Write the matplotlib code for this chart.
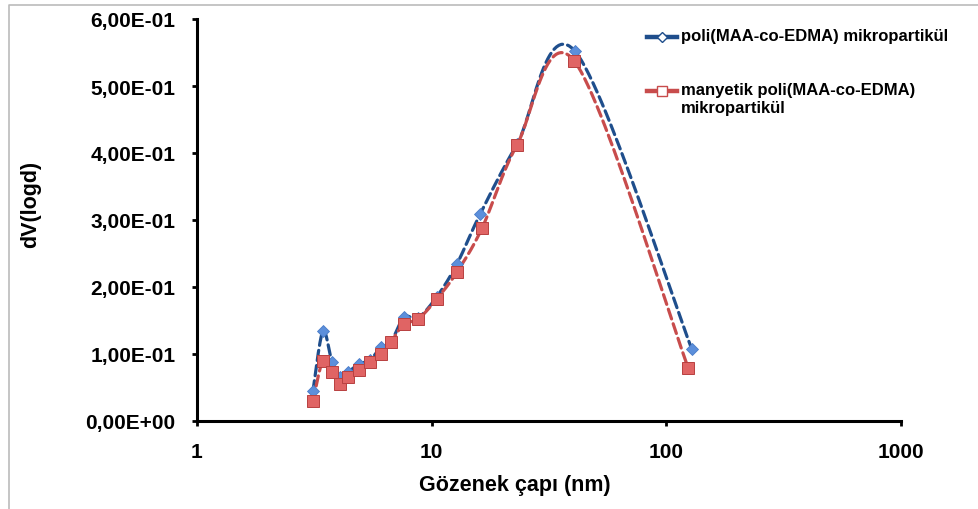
import numpy as np
import matplotlib
matplotlib.use("Agg")
import matplotlib.pyplot as plt
from matplotlib.lines import Line2D

plt.rcParams['font.family'] = ['Liberation Sans', 'DejaVu Sans']
plt.rcParams['font.weight'] = 'bold'

# pore diameter (nm) and dV(logd)
d_blue = [3.12, 3.44, 3.76, 4.07, 4.40, 4.90, 5.46, 6.08, 6.71, 7.62, 8.75,
          10.5, 12.8, 16.1, 23.1, 40.8, 128.5]
v_blue = [0.045, 0.134, 0.088, 0.066, 0.073, 0.085, 0.091, 0.110, 0.118, 0.155, 0.154,
          0.185, 0.234, 0.309, 0.413, 0.552, 0.107]

d_red = [3.12, 3.44, 3.76, 4.07, 4.40, 4.90, 5.46, 6.08, 6.71, 7.62, 8.75,
         10.5, 12.8, 16.4, 23.1, 40.6, 124.0]
v_red = [0.030, 0.090, 0.073, 0.055, 0.066, 0.076, 0.088, 0.100, 0.118, 0.145, 0.152,
         0.182, 0.222, 0.288, 0.412, 0.537, 0.079]

label_blue = "poli(MAA-co-EDMA) mikropartikül"
label_red = "manyetik poli(MAA-co-EDMA)\nmikropartikül"

yticks = [0.0, 0.1, 0.2, 0.3, 0.4, 0.5, 0.6]
xticks = [1, 10, 100, 1000]


def smooth(xs, ys, n=30):
    # Excel-style smoothed line: Catmull-Rom Bezier in log-x space
    px = np.log10(np.asarray(xs, float))
    py = np.asarray(ys, float)
    px = np.concatenate([[px[0]], px, [px[-1]]])
    py = np.concatenate([[py[0]], py, [py[-1]]])
    ox, oy = [], []
    t = np.linspace(0, 1, n)
    for i in range(1, len(px) - 2):
        p0 = np.array([px[i], py[i]])
        p3 = np.array([px[i + 1], py[i + 1]])
        c1 = p0 + (np.array([px[i + 1], py[i + 1]]) - np.array([px[i - 1], py[i - 1]])) / 6
        c2 = p3 - (np.array([px[i + 2], py[i + 2]]) - np.array([px[i], py[i]])) / 6
        b = ((1 - t) ** 3)[:, None] * p0 + (3 * (1 - t) ** 2 * t)[:, None] * c1 \
            + (3 * (1 - t) * t ** 2)[:, None] * c2 + (t ** 3)[:, None] * p3
        ox.extend(b[:, 0])
        oy.extend(b[:, 1])
    return 10 ** np.array(ox), np.array(oy)


blue_line = '#1F4E8C'
blue_mark = '#5C8FDB'
red_line = '#C84C4C'
red_mark = '#E06464'
red_edge = '#B84040'

fig = plt.figure(figsize=(9.79, 5.10), dpi=100)
ax = fig.add_axes([197 / 979, 1 - 422 / 510, (901 - 197) / 979, (422 - 20) / 510])

sx, sy = smooth(d_blue, v_blue)
ax.plot(sx, sy, color=blue_line, lw=2.3, dashes=(3.2, 1.6), dash_capstyle='round', zorder=2)
sx, sy = smooth(d_red, v_red)
ax.plot(sx, sy, color=red_line, lw=2.3, dashes=(3.2, 1.6), dash_capstyle='round', zorder=3)

ax.plot(d_blue, v_blue, ls='none', marker='D', ms=6.5, mfc=blue_mark, mec='#4A7CC8',
        mew=0.6, zorder=4)
ax.plot(d_red, v_red, ls='none', marker='s', ms=8, mfc=red_mark, mec=red_edge,
        mew=0.7, zorder=5)

ax.set_xscale('log')
ax.set_xlim(1, 1000)
ax.set_ylim(0, 0.6)
ax.set_xticks(xticks)
ax.set_xticklabels([str(v) for v in xticks])
ax.xaxis.set_minor_locator(matplotlib.ticker.NullLocator())
ax.set_yticks(yticks)
ax.set_yticklabels([("%.2E" % v).replace('.', ',') for v in yticks])

for s in ['top', 'right']:
    ax.spines[s].set_visible(False)
for s in ['left', 'bottom']:
    ax.spines[s].set_linewidth(2.2)
ax.tick_params(axis='both', direction='out', length=3.8, width=2, labelsize=15)
ax.tick_params(axis='y', pad=11.5)
ax.tick_params(axis='x', pad=11)

ax.set_xlabel("Gözenek çapı (nm)", fontsize=15.5, fontweight='bold')
ax.xaxis.set_label_coords(0.452, -0.132)
ax.set_ylabel("dV(logd)", fontsize=15.5, fontweight='bold')
ax.yaxis.set_label_coords(-0.2216, 0.542)

# legend, drawn by hand so the handle sits on the first text line
for (yy, col, mk, lab, ms) in [(38, blue_line, 'D', label_blue, 5),
                               (92, red_line, 's', label_red, 6.5)]:
    fy = 1 - yy / 510
    fig.add_artist(Line2D([647 / 979, 677 / 979], [fy, fy], color=col, lw=3.2,
                          transform=fig.transFigure))
    fig.add_artist(Line2D([662 / 979], [fy], marker=mk, ms=ms, mfc='white', mec=col,
                          mew=1, transform=fig.transFigure))
    fig.text(681 / 979, fy + 9 / 510, lab, fontsize=12, fontweight='bold', va='top',
             ha='left', linespacing=1.25, transform=fig.transFigure)

# chart area border (left and top edges visible)
fig.add_artist(Line2D([9 / 979, 9 / 979, 1], [0, 1 - 6 / 510, 1 - 6 / 510],
                      color='#BBBBBB', lw=1.2, transform=fig.transFigure))

fig.savefig('out.png', dpi=100)
